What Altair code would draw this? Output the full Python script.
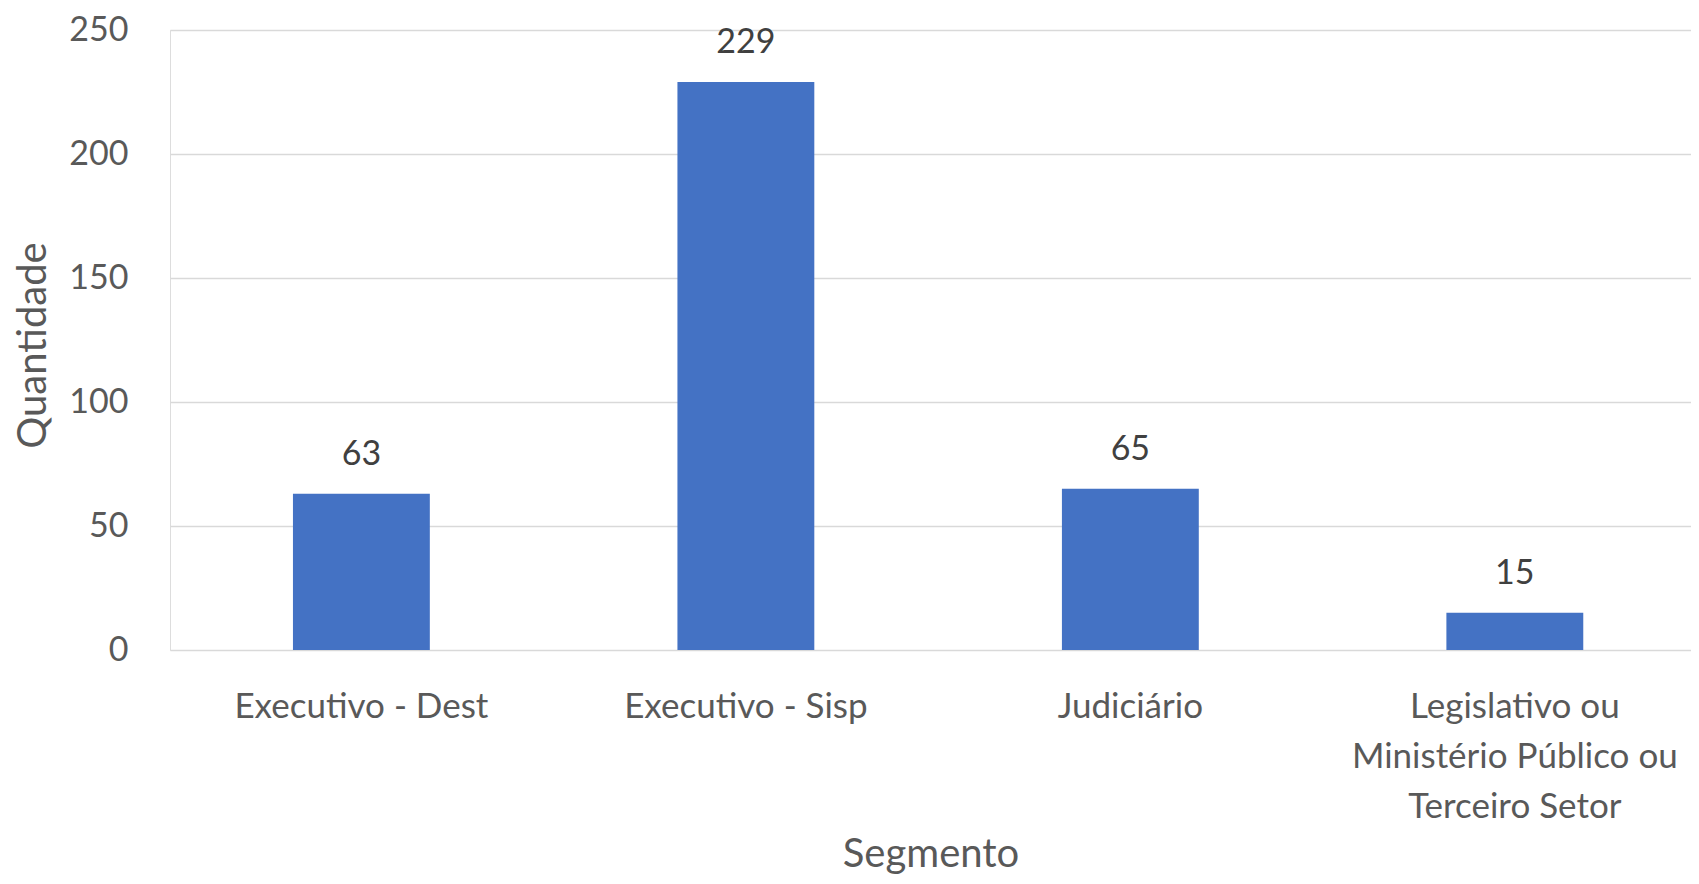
import altair as alt
import pandas as pd

categories = ["Executivo - Dest", "Executivo - Sisp", "Judiciário",
              "Legislativo ou\nMinistério Público ou\nTerceiro Setor"]
values = [63, 229, 65, 15]
y_ticks = [0, 50, 100, 150, 200, 250]

df = pd.DataFrame({"Segmento": categories, "Quantidade": values})

FONT = "Lato"
LABEL_COLOR = "#595959"

x = alt.X(
    "Segmento:N",
    sort=categories,
    scale=alt.Scale(paddingInner=0.644, paddingOuter=0.30, align=0.533),
    axis=alt.Axis(
        title="Segmento",
        labelAngle=0,
        labelExpr="split(datum.label, '\\n')",
        labelFontSize=35,
        labelFont=FONT,
        labelColor=LABEL_COLOR,
        labelLineHeight=50,
        labelPadding=39,
        labelBaseline="top",
        labelLimit=0,
        ticks=False,
        domain=False,
        titleFontSize=40,
        titleFont=FONT,
        titleColor=LABEL_COLOR,
        titleFontWeight="normal",
        titleY=216,
        titleBaseline="alphabetic",
    ),
)

y = alt.Y(
    "Quantidade:Q",
    scale=alt.Scale(domain=[0, 250], nice=False),
    axis=alt.Axis(
        title="Quantidade",
        values=y_ticks,
        labelFontSize=34,
        labelFont=FONT,
        labelColor=LABEL_COLOR,
        labelPadding=42,
        ticks=False,
        domain=False,
        grid=True,
        gridColor="#d9d9d9",
        gridWidth=1.5,
        titleFontSize=40,
        titleFont=FONT,
        titleColor=LABEL_COLOR,
        titleFontWeight="normal",
        titleX=-137,
        titleY=315,
        titleAngle=270,
        titleAlign="center",
        titleBaseline="middle",
    ),
)

bars = alt.Chart(df).mark_bar(color="#4472c4").encode(x=x, y=y)

labels = alt.Chart(df).mark_text(
    baseline="middle", align="center", dy=-39, fontSize=34, font=FONT, color="#404040"
).encode(
    x=alt.X("Segmento:N", sort=categories),
    y=alt.Y("Quantidade:Q"),
    text=alt.Text("Quantidade:Q"),
)

chart = (
    (bars + labels)
    .properties(
        width=1521,
        height=620,
        autosize=alt.AutoSizeParams(type="none"),
        padding={"left": 162, "top": 22, "right": 0, "bottom": 226},
    )
    .configure_view(stroke=None)
    .configure(background="white")
)

chart.save("out.html", embed_options={"renderer": "svg", "actions": False})
